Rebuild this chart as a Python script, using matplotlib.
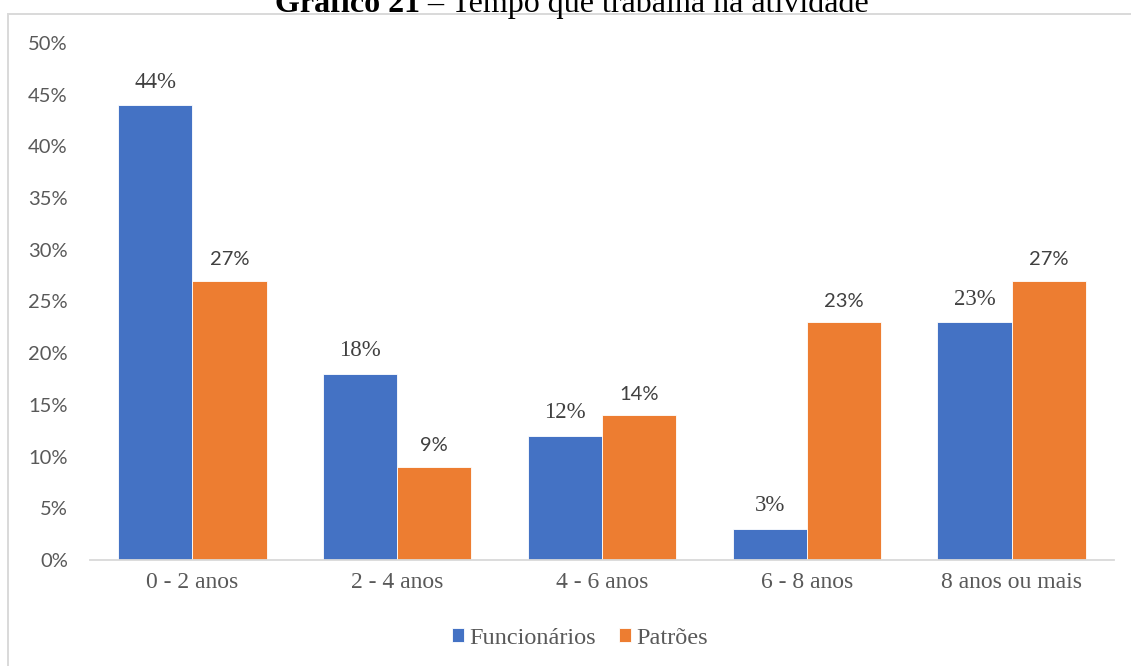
import numpy as np
import matplotlib.pyplot as plt
from matplotlib.patches import Rectangle

categorias = ['0 - 2 anos', '2 - 4 anos', '4 - 6 anos', '6 - 8 anos', '8 anos ou mais']
funcionarios = [44, 18, 12, 3, 23]
patroes = [27, 9, 14, 23, 27]
series = ['Funcionários', 'Patrões']
yticks = [0, 5, 10, 15, 20, 25, 30, 35, 40, 45, 50]

azul = '#4472C4'
laranja = '#ED7D31'
cinza = '#595959'
serif = 'Liberation Serif'
sans = 'Lato'

W, H = 1131, 666
fig = plt.figure(figsize=(W / 100, H / 100), dpi=100)

# area do grafico (em pixels)
x0, x1 = 90, 1114
y_top, y_bot = 43, 560
ax = fig.add_axes([x0 / W, 1 - y_bot / H, (x1 - x0) / W, (y_bot - y_top) / H])

x = np.arange(len(categorias))
w = 0.362
b1 = ax.bar(x - w / 2, funcionarios, w, color=azul, edgecolor='white', linewidth=0.6, label=series[0])
b2 = ax.bar(x + w / 2, patroes, w, color=laranja, edgecolor='white', linewidth=0.6, label=series[1])

# rotulos de dados
for xi, v in zip(x - w / 2, funcionarios):
    ax.annotate(f'{v}%', (xi, v), xytext=(0, 9), textcoords='offset points',
                ha='center', va='bottom', fontsize=16.5, family=serif, color='#404040')
for xi, v in zip(x + w / 2, patroes):
    ax.annotate(f'{v}%', (xi, v), xytext=(0, 9), textcoords='offset points',
                ha='center', va='bottom', fontsize=14.5, family=sans, color='#404040')

ax.set_xlim(-0.5, len(categorias) - 0.5)
ax.set_ylim(0, 50)
ax.set_yticks(yticks)
ax.set_yticklabels([f'{t}%' for t in yticks], fontsize=14.5, family=sans, color=cinza)
ax.set_xticks(x)
ax.set_xticklabels(categorias, fontsize=17, family=serif, color=cinza)
ax.tick_params(axis='y', length=0, pad=16)
ax.tick_params(axis='x', length=0, pad=9)
for s in ['top', 'right', 'left']:
    ax.spines[s].set_visible(False)
ax.spines['bottom'].set_color('#d9d9d9')
ax.spines['bottom'].set_linewidth(1.3)

leg = fig.legend(handles=[b1, b2], labels=series, loc='center', bbox_to_anchor=(580 / W, 1 - 638 / H),
                 ncol=2, frameon=False, handlelength=0.5, handleheight=0.5, handletextpad=0.2,
                 columnspacing=0.95, prop={'family': serif, 'size': 17.5})
for t in leg.get_texts():
    t.set_color(cinza)

# moldura da area do grafico
fig.patches.append(Rectangle((8 / W, -0.05), 1.2, 1 - 14 / H + 0.05, transform=fig.transFigure,
                             fill=False, edgecolor='#d9d9d9', linewidth=1.4))

# titulo (cortado no topo)
fig.text(420 / W, 1 - 12 / H, 'Gráfico 21', ha='right', va='baseline', fontsize=23,
         family=serif, weight='bold', color='black')
fig.text(420 / W, 1 - 12 / H, ' – Tempo que trabalha na atividade', ha='left', va='baseline',
         fontsize=23, family=serif, color='black')

plt.savefig('out.png', dpi=100)
